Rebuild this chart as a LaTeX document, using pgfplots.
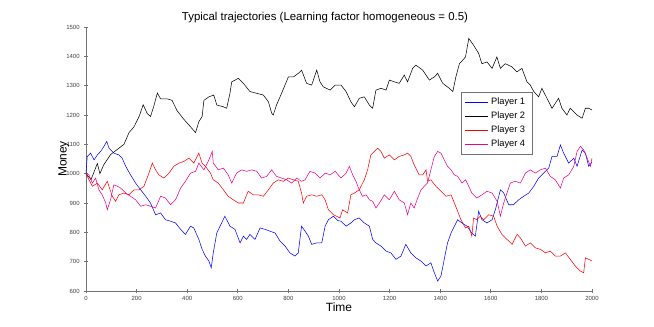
\documentclass[border=0pt]{standalone}
\usepackage{fontspec}
\setmainfont{Liberation Sans}
\usepackage{pgfplots}
\pgfplotsset{compat=1.18}
\definecolor{axgray}{gray}{0.45}

\begin{document}
\begin{tikzpicture}
\useasboundingbox (-64.5bp,-27bp) rectangle (426bp,218.25bp);
\begin{axis}[
  scale only axis, width=379.5bp, height=198bp,
  xmin=0, xmax=2000, ymin=600, ymax=1500,
  xtick={0,200,...,2000}, ytick={600,700,...,1500},
  axis x line=bottom, axis y line=left,
  axis line style={-, draw=axgray, line width=0.6pt},
  every outer x axis line/.append style={-},
  every outer y axis line/.append style={-},
  tick style={draw=axgray, line width=0.5pt},
  major tick length=2.5pt,
  ticklabel style={font=\fontsize{4.5}{5}\selectfont, text=black!75},
  xticklabel style={yshift=1pt},
  /pgf/number format/assume math mode=true,
  /pgf/number format/1000 sep={},
  title={Typical trajectories (Learning factor homogeneous = 0.5)},
  title style={font=\fontsize{8.6}{10}\selectfont, yshift=-6.5pt, xshift=-10.5bp},
  xlabel={Time}, ylabel={Money},
  label style={font=\fontsize{9}{10.8}\selectfont},
  xlabel style={yshift=5pt}, ylabel style={yshift=-9pt},
  legend style={at={(axis cs:1482,1278)}, anchor=north west,
    nodes={font=\fontsize{7}{8.4}\selectfont}, draw=axgray},
  legend cell align=left,
]
\addplot[blue, line width=0.4pt] coordinates {(0,1000)(5,1059)(18,1070)(32,1047)(45,1064)(58,1076)(71,1093)(82,1110)(91,1087)(110,1070)(130,1064)(143,1053)(157,1025)(176,996)(196,968)(216,945)(236,923)(255,900)(275,860)(295,866)(314,843)(334,838)(354,832)(374,810)(393,793)(413,821)(426,815)(446,776)(459,742)(472,719)(486,702)(495,679)(503,730)(517,798)(536,832)(549,855)(569,821)(589,810)(609,764)(622,787)(635,776)(648,793)(668,776)(688,815)(708,810)(727,804)(747,798)(767,770)(787,753)(806,730)(826,719)(839,730)(852,821)(866,804)(879,787)(892,759)(912,764)(932,764)(945,821)(958,843)(978,855)(995,840)(1008,838)(1028,821)(1047,832)(1061,843)(1080,849)(1100,832)(1120,821)(1133,776)(1146,764)(1166,753)(1186,736)(1205,730)(1225,708)(1245,719)(1264,759)(1284,730)(1304,713)(1324,702)(1344,685)(1363,696)(1377,662)(1390,634)(1403,651)(1416,708)(1429,764)(1443,798)(1456,821)(1469,843)(1486,832)(1506,821)(1525,798)(1539,787)(1552,872)(1565,843)(1585,832)(1605,843)(1618,877)(1638,945)(1651,934)(1671,894)(1690,894)(1710,911)(1730,923)(1750,934)(1770,957)(1789,985)(1809,1002)(1829,1019)(1842,1059)(1862,1059)(1875,1098)(1888,1070)(1908,1036)(1928,1053)(1941,1025)(1961,1081)(1974,1070)(1987,1025)(2000,1040)};
\addlegendentry{Player 1}
\addplot[black, line width=0.4pt] coordinates {(0,1000)(20,980)(45,1035)(55,1000)(70,1030)(97,1065)(150,1100)(170,1140)(190,1160)(210,1195)(226,1235)(242,1205)(255,1195)(268,1230)(282,1275)(295,1255)(321,1255)(340,1250)(360,1215)(387,1185)(413,1160)(433,1140)(446,1177)(459,1195)(466,1250)(486,1262)(505,1268)(517,1234)(543,1228)(556,1223)(569,1274)(576,1313)(602,1325)(622,1308)(648,1280)(675,1274)(701,1268)(721,1245)(734,1206)(740,1200)(753,1234)(773,1274)(800,1330)(820,1330)(839,1342)(852,1353)(872,1308)(892,1302)(912,1353)(925,1313)(938,1296)(965,1285)(985,1302)(1008,1302)(1028,1280)(1047,1245)(1061,1228)(1080,1257)(1100,1262)(1120,1234)(1133,1223)(1146,1285)(1166,1291)(1186,1285)(1199,1319)(1219,1313)(1238,1308)(1258,1336)(1271,1313)(1291,1359)(1304,1370)(1331,1353)(1357,1319)(1377,1330)(1390,1342)(1410,1308)(1436,1291)(1450,1280)(1462,1330)(1476,1375)(1489,1387)(1500,1398)(1513,1461)(1532,1438)(1552,1410)(1565,1375)(1585,1381)(1605,1359)(1624,1398)(1638,1359)(1657,1375)(1684,1364)(1703,1347)(1723,1359)(1743,1313)(1756,1302)(1770,1280)(1789,1262)(1802,1291)(1822,1257)(1842,1223)(1855,1240)(1868,1257)(1881,1223)(1901,1200)(1914,1223)(1941,1200)(1961,1189)(1974,1223)(1987,1223)(2000,1217)};
\addlegendentry{Player 2}
\addplot[red, line width=0.4pt] coordinates {(0,1000)(12,979)(25,957)(45,968)(64,945)(84,974)(104,923)(117,906)(130,928)(150,934)(170,928)(189,945)(209,945)(229,957)(249,1002)(262,1036)(275,1013)(288,996)(308,985)(328,1002)(347,1025)(367,1036)(387,1042)(407,1053)(426,1036)(446,1070)(459,1036)(472,1025)(492,1002)(503,979)(523,968)(543,945)(562,923)(582,911)(602,900)(622,900)(641,940)(661,928)(681,928)(701,923)(721,945)(740,968)(760,979)(780,974)(800,985)(820,979)(839,974)(852,934)(859,900)(872,923)(892,928)(912,923)(932,928)(945,911)(958,877)(978,860)(1004,849)(1014,877)(1034,866)(1047,928)(1061,934)(1080,945)(1100,979)(1113,1013)(1126,1064)(1140,1076)(1153,1087)(1166,1076)(1179,1053)(1199,1064)(1219,1047)(1238,1059)(1258,1064)(1271,1070)(1284,1059)(1297,1030)(1317,996)(1331,996)(1344,1013)(1350,974)(1363,979)(1383,957)(1403,940)(1423,923)(1443,928)(1456,900)(1469,872)(1482,843)(1500,815)(1513,821)(1525,787)(1532,849)(1545,843)(1558,855)(1572,843)(1592,860)(1611,855)(1625,821)(1644,793)(1664,776)(1684,759)(1704,793)(1717,781)(1737,753)(1756,764)(1776,747)(1796,742)(1816,730)(1835,736)(1855,719)(1875,719)(1895,730)(1914,708)(1934,685)(1954,668)(1967,662)(1974,713)(1987,708)(2000,702)};
\addlegendentry{Player 3}
\addplot[magenta, line width=0.4pt] coordinates {(0,1000)(12,996)(25,968)(38,985)(51,945)(64,928)(78,900)(84,877)(97,911)(110,962)(124,957)(137,951)(157,934)(176,923)(196,911)(216,889)(236,894)(255,889)(275,883)(295,923)(314,917)(334,894)(354,911)(374,951)(393,974)(413,1002)(433,1008)(446,1036)(466,1013)(486,1047)(499,1076)(503,1036)(523,1013)(543,1019)(562,996)(576,968)(595,1002)(615,1013)(635,1008)(655,1013)(675,1008)(694,985)(714,991)(734,1013)(753,991)(773,985)(793,979)(813,968)(833,985)(852,974)(866,979)(885,1008)(905,1002)(925,985)(945,1002)(965,996)(985,1008)(1008,985)(1028,1002)(1041,1025)(1054,996)(1067,974)(1080,945)(1093,923)(1107,928)(1120,911)(1133,906)(1146,883)(1160,900)(1179,928)(1199,911)(1219,940)(1238,911)(1258,900)(1271,860)(1284,900)(1297,883)(1311,917)(1324,945)(1337,957)(1350,968)(1363,1013)(1377,1059)(1390,1076)(1403,1070)(1416,1047)(1429,1025)(1443,1013)(1456,996)(1469,991)(1486,968)(1500,979)(1513,957)(1525,934)(1545,917)(1565,928)(1585,940)(1605,934)(1625,906)(1638,855)(1651,900)(1664,934)(1677,968)(1697,974)(1717,968)(1737,1002)(1756,1013)(1776,1002)(1796,1013)(1816,1019)(1835,991)(1855,979)(1875,951)(1888,985)(1908,996)(1928,1025)(1941,1076)(1954,1093)(1967,1081)(1981,1053)(1994,1025)(2000,1053)};
\addlegendentry{Player 4}
\end{axis}
\end{tikzpicture}
\end{document}
